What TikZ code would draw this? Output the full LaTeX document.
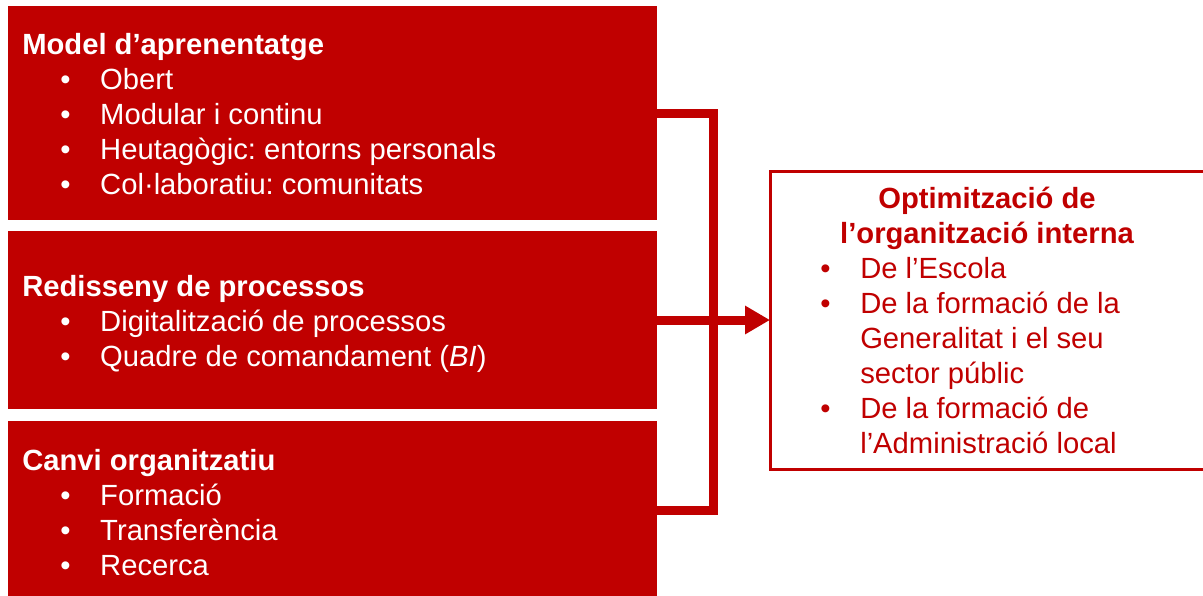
\documentclass[tikz,border=0pt]{standalone}
\usepackage{fontspec}
\setmainfont{Liberation Sans}
\usetikzlibrary{arrows.meta}
\definecolor{brandred}{RGB}{192,0,0}
\frenchspacing
% bullet item: bullet in a fixed-width slot, then the text
\newcommand\bitem[1]{\makebox[30pt][l]{•}#1}
\begin{document}
\begin{tikzpicture}[x=0.75pt,y=-0.75pt,
  panel/.style={fill=brandred, draw=none, anchor=north west, inner sep=0pt,
    outer sep=0pt, minimum width=486.75pt},
  goalbox/.style={draw=brandred, line width=2.25pt, fill=white, anchor=north west,
    inner sep=0pt, outer sep=0pt, minimum width=325.5pt, minimum height=223.5pt},
  txt/.style={anchor=base west, inner sep=0pt, font=\fontsize{21.9}{26}\selectfont},
  head/.style={txt, font=\fontsize{21.9}{26}\selectfont\bfseries},
  link/.style={draw=brandred, line width=6.75pt, line join=miter},
]
\useasboundingbox (0,0) rectangle (1203,596);
\clip (0,0) rectangle (1203,596);

% left panels
\node[panel, minimum height=160.5pt] (m1) at (8,6) {};
\node[panel, minimum height=133.5pt] (m2) at (8,231) {};
\node[panel, minimum height=140pt] (m3) at (8,421) {};

% target box
\node[goalbox] (opt) at (770,171) {};

% panel 1
\node[head, text=white] (m1h) at (22,54) {Model d’aprenentatge};
\node[txt, text=white] (m1a) at (60,89) {\bitem{Obert}};
\node[txt, text=white] (m1b) at (60,124) {\bitem{Modular i continu}};
\node[txt, text=white] (m1c) at (60,159) {\bitem{Heutagògic: entorns personals}};
\node[txt, text=white] (m1d) at (60,194) {\bitem{Col·laboratiu: comunitats}};

% panel 2
\node[head, text=white] (m2h) at (22,296) {Redisseny de processos};
\node[txt, text=white] (m2a) at (60,331) {\bitem{Digitalització de processos}};
\node[txt, text=white] (m2b) at (60,366) {\bitem{Quadre de comandament (\textit{BI})}};

% panel 3
\node[head, text=white] (m3h) at (22,470) {Canvi organitzatiu};
\node[txt, text=white] (m3a) at (60,505) {\bitem{Formació}};
\node[txt, text=white] (m3b) at (60,540) {\bitem{Transferència}};
\node[txt, text=white] (m3c) at (60,575) {\bitem{Recerca}};

% target box text
\node[head, anchor=base, text=brandred] (oh1) at (987,208) {Optimització de};
\node[head, anchor=base, text=brandred] (oh2) at (987,243) {l’organització interna};
\node[txt, text=brandred] (oa) at (820,278) {\bitem{De l’Escola}};
\node[txt, text=brandred] (ob1) at (820,313) {\bitem{De la formació de la}};
\node[txt, text=brandred] (ob2) at (860,348) {Generalitat i el seu};
\node[txt, text=brandred] (ob3) at (860,383) {sector públic};
\node[txt, text=brandred] (oc1) at (820,418) {\bitem{De la formació de}};
\node[txt, text=brandred] (oc2) at (860,453) {l’Administració local};

% bracket joining panels 1 and 3, arrow from panel 2
\coordinate (jt) at (713,113);
\coordinate (jb) at (713,510);
\draw[link] (m1.east |- jt) -- (jt) -- (jb) -- (m3.east |- jb);
\draw[link, -{Triangle[length=18.75pt,width=20.25pt]}] (m2.east) -- (m2.east -| opt.west);
\end{tikzpicture}
\end{document}
